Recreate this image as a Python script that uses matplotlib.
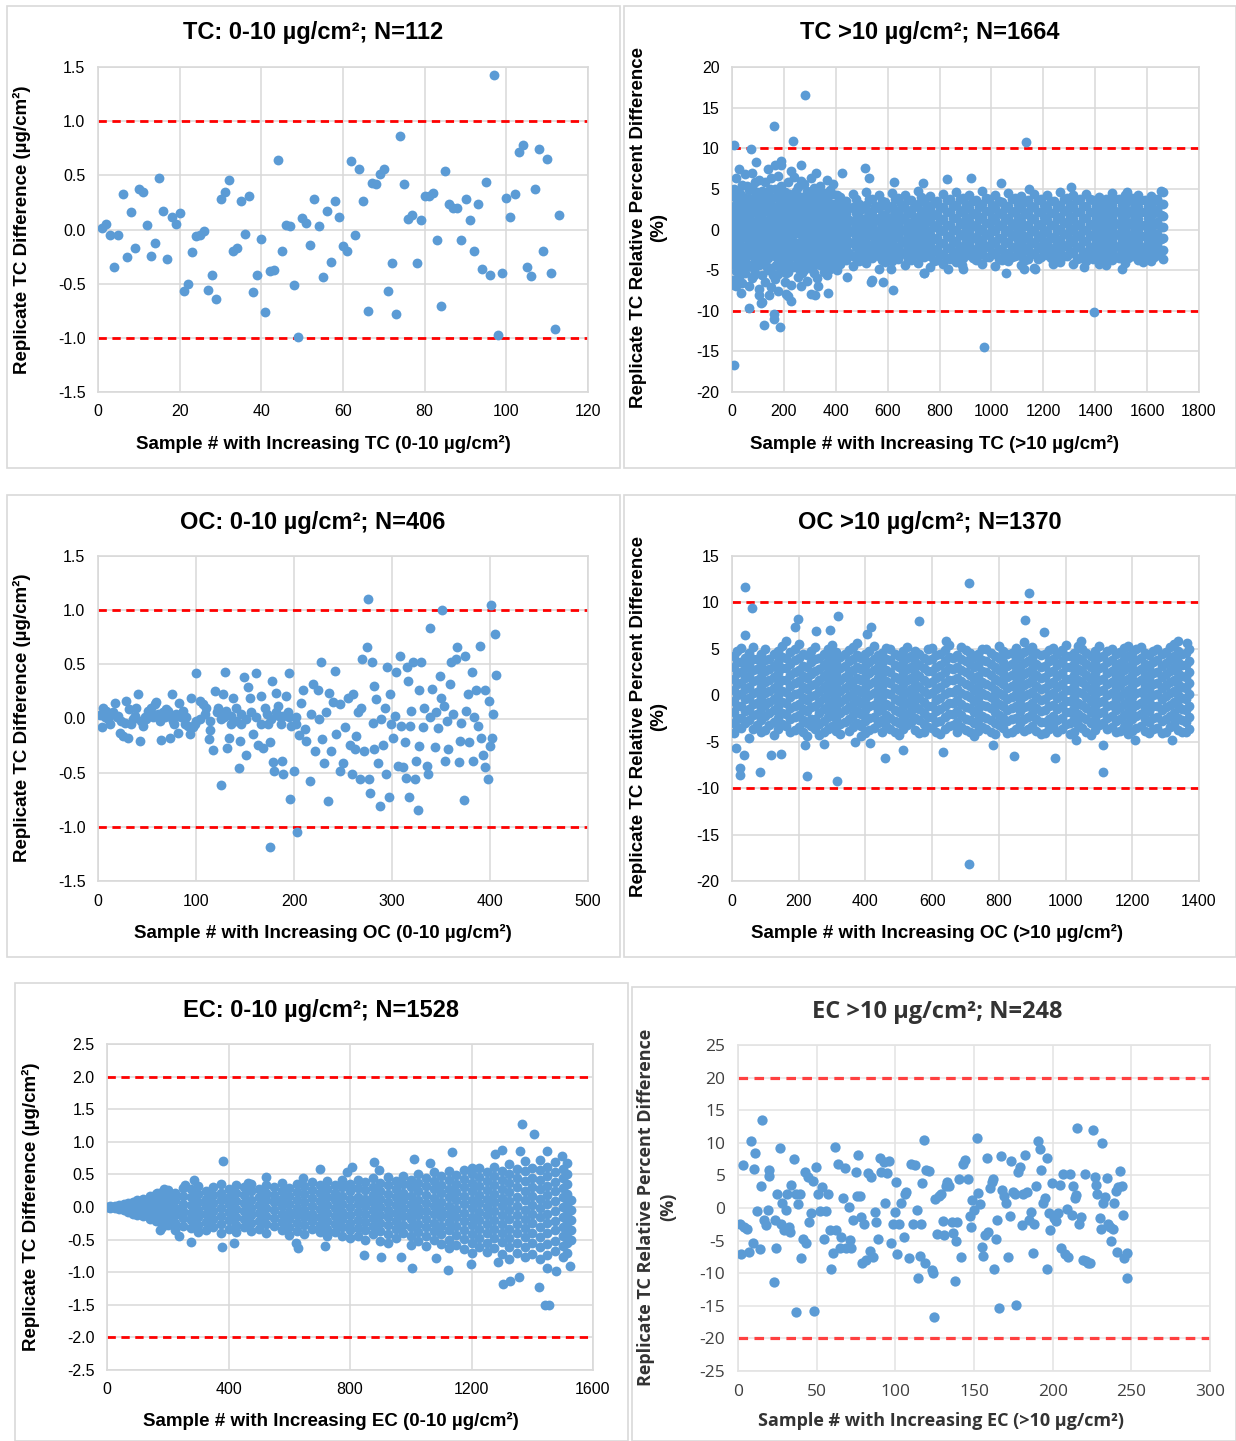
"""Replicate difference scatter panels (TC / OC / EC, low and high loadings)."""

import matplotlib
matplotlib.use("Agg")
import matplotlib.pyplot as plt
import numpy as np
from matplotlib.patches import Rectangle
from matplotlib.ticker import FormatStrFormatter

W, H = 1236, 1441
BLUE = "#5b9bd5"
GRID = "#d9d9d9"

plt.rcParams["font.family"] = ["Liberation Sans", "DejaVu Sans"]
plt.rcParams["axes.unicode_minus"] = False

# ---- TC 0-10 ug/cm2, N=112 (x = sample #) ----
tc_lo_y = [0.01, 0.05, -0.05, -0.35, -0.05, 0.33, -0.25, 0.16, -0.17, 0.37,
           0.35, 0.04, -0.24, -0.12, 0.48, 0.17, -0.27, 0.12, 0.05, 0.15,
           -0.57, -0.50, -0.21, -0.06, -0.05, -0.01, -0.56, -0.42, -0.64, 0.28,
           0.35, 0.46, -0.20, -0.17, 0.26, -0.04, 0.31, -0.58, -0.42, -0.09,
           -0.76, -0.38, -0.37, 0.64, -0.20, 0.04, 0.03, -0.51, -0.99, 0.11,
           0.06, -0.14, 0.28, 0.03, -0.44, 0.17, -0.30, 0.26, 0.12, -0.15,
           -0.20, 0.63, -0.05, 0.56, 0.26, -0.75, 0.43, 0.42, 0.51, 0.56,
           -0.57, -0.31, -0.78, 0.86, 0.42, 0.10, 0.13, -0.31, 0.09, 0.31,
           0.31, 0.34, -0.10, -0.71, 0.54, 0.24, 0.20, 0.20, -0.10, 0.28,
           0.09, -0.20, 0.24, -0.36, 0.44, -0.42, 1.43, -0.97, -0.40, 0.29,
           0.12, 0.33, 0.72, 0.78, -0.35, -0.43, 0.37, 0.74, -0.20, 0.65,
           -0.40, -0.92, 0.13]

# ---- TC >10 ug/cm2, N=1664 : dense band as (sample #, [y ...]) columns ----
tc_hi_cols = [
    (3, [4.1, 1.2, -0.8, -2.5, -4.3, -6.2, 2.6]),
    (9, [5.0, 2.0, -0.2, -1.9, -3.6]),
    (15, [6.3, 3.2, 0.4, -1.6, -3.9, -5.1, 1.8, -7.0]),
    (22, [3.4, 1.0, -1.2, -3.2, -4.6]),
    (28, [7.4, 4.6, 2.3, 0.9, -0.5, -2.9, -5.8]),
    (34, [4.2, 2.1, 0.0, -2.0, -4.0]),
    (40, [5.5, 3.0, 1.5, -1.1, -3.4, -4.8, -6.6]),
    (46, [2.8, 0.8, -0.9, -2.9, -5.0]),
    (52, [6.8, 3.9, 2.0, -0.2, -2.1, -4.0, -5.4]),
    (58, [5.3, 3.5, 1.1, -0.8, -3.2]),
    (65, [4.9, 2.7, 0.6, -1.5, -3.0, -6.9, 1.4]),
    (71, [3.8, 1.9, -0.4, -2.3, -4.4]),
    (78, [7.0, 5.2, 3.4, 1.0, -0.9, -2.6, -4.6, -6.0]),
    (84, [2.7, 0.4, -1.3, -3.2, -5.6]),
    (90, [4.0, 2.2, -0.3, -1.8, -3.7, -5.3, 5.9]),
    (97, [4.6, 2.8, 0.8, -1.0, -3.0]),
    (103, [6.1, 3.6, 1.7, 0.2, -2.3, -4.4, -7.3]),
    (109, [3.4, 1.4, -0.5, -2.0, -3.8]),
    (115, [4.7, 2.9, 0.9, -1.0, -3.1, -5.6, -8.9]),
    (122, [4.1, 2.2, 0.2, -1.8, -3.4]),
    (128, [5.8, 3.3, 1.1, -0.6, -2.8, -4.1, -6.4]),
    (134, [3.0, 1.0, -1.0, -2.0, -4.6]),
    (140, [7.5, 4.4, 2.4, 0.3, -1.4, -3.5, -5.0]),
    (146, [5.0, 3.1, 1.2, -0.9, -2.8]),
    (152, [6.4, 3.8, 1.6, -0.4, -2.2, -4.7, -7.1]),
    (159, [2.9, 0.9, -1.0, -3.0, -5.6]),
    (165, [7.9, 5.0, 2.1, 0.5, -1.3, -3.3, -6.1]),
    (171, [4.0, 1.4, -0.4, -2.5, -4.4]),
    (178, [6.6, 4.2, 2.8, 0.7, -1.9, -3.6, -5.5, -7.6]),
    (184, [3.5, 1.9, 0.0, -1.0, -3.0]),
    (190, [8.4, 5.4, 3.1, 1.3, -0.7, -2.7, -4.9]),
    (196, [4.5, 2.2, 0.3, -1.8, -3.8]),
    (203, [4.6, 2.5, 0.0, -1.7, -4.2, -6.5]),
    (209, [3.7, 1.3, -0.7, -2.9, -5.3]),
    (215, [5.9, 3.5, 1.9, -0.1, -2.4, -5.2, -8.2]),
    (221, [4.4, 2.7, 0.8, -1.1, -3.6]),
    (228, [7.2, 4.3, 2.2, 0.4, -1.2, -3.2, -6.8]),
    (234, [3.2, 1.2, -0.4, -2.2, -4.6]),
    (240, [6.5, 3.7, 1.4, -0.5, -2.6, -4.5]),
    (246, [4.8, 2.6, 0.5, -1.6, -3.4]),
    (253, [5.2, 3.0, 0.8, -1.6, -3.8, -5.9]),
    (259, [3.8, 2.0, -0.3, -2.6, -4.9]),
    (265, [6.0, 4.0, 1.8, 0.1, -2.0, -4.3, -7.0]),
    (271, [2.9, 1.0, -0.8, -3.1, -5.3]),
    (278, [5.6, 2.6, 0.6, -1.1, -3.0, -5.0]),
    (284, [4.1, 2.0, 0.2, -1.9, -3.9]),
    (290, [4.8, 3.2, 1.2, -0.6, -2.5, -4.6, -6.3]),
    (296, [3.3, 1.6, -0.1, -1.6, -3.5]),
    (303, [6.4, 3.9, 1.5, -0.3, -1.9, -3.6, -7.9]),
    (309, [4.3, 2.5, 0.6, -0.9, -2.8, -4.8]),
    (315, [5.1, 2.8, 0.9, -1.4, -3.3, -5.4]),
    (321, [3.6, 1.8, 0.0, -2.2, -4.2]),
    (328, [4.3, 2.0, 0.2, -1.8, -3.9, -6.0]),
    (334, [4.7, 3.0, 1.0, -0.8, -2.9]),
    (340, [5.4, 3.4, 1.3, -0.4, -2.4, -4.4]),
    (346, [3.2, 1.5, -0.6, -1.8, -3.6]),
    (353, [4.5, 2.5, 0.7, -1.2, -3.1, -5.2]),
    (359, [4.0, 2.1, 0.2, -1.6, -3.4]),
    (365, [6.1, 3.6, 1.7, -0.2, -2.0, -3.8, -5.6]),
    (371, [3.4, 1.0, -0.8, -2.6, -4.4]),
    (378, [4.9, 2.3, 0.4, -1.5, -3.4, -4.8]),
    (384, [4.4, 2.6, 0.8, -0.9, -2.6]),
    (390, [5.6, 3.1, 1.0, -0.7, -2.7, -4.1]),
    (396, [3.0, 1.7, -0.2, -1.9, -3.6]),
    (403, [4.2, 2.7, 0.8, -1.0, -2.9, -5.0]),
    (409, [3.4, 1.4, -0.3, -2.0, -3.4]),
    (415, [4.0, 2.2, 0.5, -1.3, -2.9, -4.2]),
    (428, [3.0, 1.6, 0.1, -1.2, -2.6, -3.4]),
    (440, [3.5, 1.9, 0.6, -0.8, -2.2, -3.7]),
    (452, [2.6, 1.2, -0.1, -1.5, -2.9]),
    (465, [4.4, 2.8, 1.1, -0.3, -1.7, -3.2, -4.5]),
    (478, [3.7, 2.0, 0.5, -0.8, -2.1, -3.5]),
    (490, [3.2, 1.6, 0.2, -1.1, -2.6, -3.9]),
    (502, [2.5, 0.9, -0.5, -1.9, -3.2]),
    (515, [4.6, 3.0, 1.4, 0.0, -1.5, -2.9, -4.1]),
    (528, [3.8, 2.2, 0.7, -0.7, -2.2, -3.5]),
    (540, [3.7, 2.1, 0.7, -0.7, -2.0, -3.5, -6.2]),
    (552, [2.9, 1.4, 0.0, -1.4, -2.8]),
    (565, [4.2, 2.6, 1.0, -0.4, -1.9, -3.3, -4.8]),
    (578, [3.5, 1.8, 0.4, -1.1, -2.5, -3.7]),
    (590, [3.4, 1.8, 0.3, -1.2, -2.7, -4.0]),
    (602, [2.7, 1.1, -0.4, -1.9, -3.3]),
    (615, [4.5, 2.9, 1.5, 0.1, -1.4, -2.8, -3.9]),
    (628, [3.7, 2.2, 0.8, -0.7, -2.1, -3.2]),
    (640, [3.9, 2.3, 0.8, -0.6, -2.1, -3.6]),
    (652, [3.1, 1.5, 0.1, -1.3, -2.8]),
    (665, [4.3, 2.7, 1.2, -0.2, -1.6, -3.0, -4.4]),
    (678, [3.6, 2.0, 0.5, -0.9, -2.3, -3.6]),
    (690, [3.6, 2.0, 0.4, -1.0, -2.5, -3.8]),
    (702, [2.8, 1.2, -0.3, -1.7, -3.1]),
    (715, [4.8, 3.1, 1.6, 0.2, -1.3, -2.7, -4.1]),
    (728, [4.0, 2.3, 0.9, -0.5, -2.0, -3.3]),
    (740, [3.8, 2.2, 0.7, -0.8, -2.2, -3.4, -5.4]),
    (752, [3.0, 1.5, 0.0, -1.5, -2.9]),
    (765, [4.1, 2.5, 1.0, -0.5, -1.9, -3.2, -4.6]),
    (778, [3.3, 1.8, 0.3, -1.2, -2.6, -3.9]),
    (790, [3.5, 1.9, 0.5, -1.0, -2.4, -3.7]),
    (802, [2.7, 1.2, -0.2, -1.7, -3.1]),
    (815, [4.4, 2.8, 1.3, -0.1, -1.6, -3.0, -4.2]),
    (828, [3.6, 2.1, 0.6, -0.8, -2.3, -3.5]),
    (840, [3.7, 2.1, 0.6, -0.9, -2.3, -3.6]),
    (852, [2.9, 1.4, -0.1, -1.6, -3.0]),
    (865, [4.6, 3.0, 1.4, 0.0, -1.4, -2.8, -4.0]),
    (878, [3.8, 2.2, 0.7, -0.7, -2.1, -3.3]),
    (890, [3.9, 2.4, 0.9, -0.5, -2.0, -3.5, -4.9]),
    (902, [3.1, 1.6, 0.2, -1.3, -2.7]),
    (915, [4.2, 2.6, 1.1, -0.3, -1.8, -3.1]),
    (928, [3.5, 1.9, 0.4, -1.1, -2.5, -3.5]),
    (940, [3.6, 2.0, 0.5, -0.9, -2.4, -3.8]),
    (952, [2.8, 1.3, -0.2, -1.6, -3.1]),
    (965, [4.7, 3.1, 1.5, 0.1, -1.3, -2.7, -4.3]),
    (978, [3.9, 2.3, 0.8, -0.6, -2.0, -3.4]),
    (990, [3.8, 2.3, 0.8, -0.7, -2.1, -3.4]),
    (1002, [3.0, 1.5, 0.1, -1.4, -2.8]),
    (1015, [4.3, 2.7, 1.2, -0.2, -1.7, -3.0, -4.5]),
    (1028, [3.5, 2.0, 0.5, -1.0, -2.4, -3.6]),
    (1040, [3.4, 1.9, 0.4, -1.0, -2.5, -3.7]),
    (1052, [2.7, 1.2, -0.3, -1.7, -3.1]),
    (1065, [4.5, 2.9, 1.4, 0.0, -1.5, -2.9, -3.9]),
    (1078, [3.7, 2.1, 0.6, -0.8, -2.2, -3.4]),
    (1090, [3.9, 2.3, 0.8, -0.6, -2.1, -3.3]),
    (1102, [3.1, 1.6, 0.1, -1.3, -2.7]),
    (1115, [4.1, 2.6, 1.1, -0.4, -1.8, -3.2, -4.4]),
    (1128, [3.4, 1.9, 0.4, -1.1, -2.5, -3.7]),
    (1140, [3.6, 2.1, 0.6, -0.8, -2.2, -3.6]),
    (1152, [2.9, 1.4, -0.1, -1.5, -2.9]),
    (1165, [4.4, 2.8, 1.3, -0.2, -1.6, -3.0, -4.7]),
    (1178, [3.6, 2.1, 0.6, -0.9, -2.3, -3.6]),
    (1190, [3.8, 2.2, 0.7, -0.7, -2.0, -3.4]),
    (1202, [3.0, 1.5, 0.0, -1.4, -2.7]),
    (1215, [4.2, 2.7, 1.2, -0.3, -1.8, -3.1]),
    (1228, [3.5, 2.0, 0.5, -1.0, -2.4, -3.5]),
    (1240, [3.5, 2.0, 0.5, -0.9, -2.3, -3.7]),
    (1252, [2.8, 1.3, -0.2, -1.6, -3.0]),
    (1265, [4.6, 3.0, 1.5, 0.1, -1.3, -2.7, -4.0]),
    (1278, [3.8, 2.3, 0.8, -0.6, -2.0, -3.3]),
    (1290, [3.9, 2.4, 0.9, -0.5, -1.9, -3.2]),
    (1302, [3.2, 1.7, 0.2, -1.2, -2.6]),
    (1315, [4.3, 2.8, 1.3, -0.1, -1.5, -2.9, -4.3]),
    (1328, [3.6, 2.1, 0.6, -0.8, -2.2, -3.6]),
    (1340, [3.7, 2.2, 0.7, -0.7, -2.1, -3.5]),
    (1352, [2.9, 1.4, 0.0, -1.4, -2.8]),
    (1365, [4.4, 2.9, 1.4, 0.0, -1.4, -2.8, -3.9]),
    (1378, [3.7, 2.2, 0.7, -0.7, -2.1, -3.3]),
    (1390, [3.6, 2.1, 0.6, -0.8, -2.2, -3.6]),
    (1402, [2.9, 1.4, -0.1, -1.5, -2.9]),
    (1415, [4.0, 2.5, 1.0, -0.4, -1.7, -3.0, -4.2]),
    (1428, [3.3, 1.8, 0.3, -1.1, -2.4, -3.6]),
    (1440, [3.8, 2.3, 0.8, -0.6, -2.0, -3.4]),
    (1452, [3.1, 1.6, 0.1, -1.3, -2.7]),
    (1465, [4.5, 3.0, 1.5, 0.1, -1.3, -2.6, -3.8]),
    (1478, [3.8, 2.3, 0.8, -0.6, -2.0, -3.2]),
    (1490, [3.7, 2.2, 0.7, -0.7, -2.1, -3.5]),
    (1502, [3.0, 1.5, 0.0, -1.4, -2.8]),
    (1515, [4.2, 2.7, 1.2, -0.2, -1.6, -2.9, -4.1]),
    (1528, [3.5, 2.0, 0.5, -0.9, -2.3, -3.5]),
    (1540, [3.9, 2.4, 0.9, -0.5, -1.9, -3.2]),
    (1552, [3.2, 1.7, 0.2, -1.2, -2.5]),
    (1565, [4.3, 2.8, 1.3, -0.1, -1.5, -2.8, -3.7]),
    (1578, [3.6, 2.1, 0.6, -0.8, -2.1, -3.0]),
    (1590, [3.6, 2.1, 0.6, -0.8, -2.2, -3.3]),
    (1602, [2.9, 1.4, -0.1, -1.5, -2.7]),
    (1615, [4.1, 2.6, 1.1, -0.3, -1.7, -3.0, -3.9]),
    (1628, [3.5, 2.0, 0.5, -0.9, -2.3, -3.4]),
    (1640, [3.8, 2.4, 0.9, -0.5, -1.9, -3.1]),
    (1652, [3.2, 1.8, 0.3, -1.2, -2.6]),
    (1660, [4.6, 3.2, 1.7, 0.3, -1.1, -2.5, -3.6]),
]
tc_hi_out_x = [9, 9, 73, 94, 163, 236, 281, 123, 186, 163, 163, 66, 1135, 972, 1397,
               265, 188, 325, 424, 511, 527, 625, 735, 829, 923, 1036, 1145, 1306, 1524, 1653,
               621, 537, 581, 612, 833, 1055, 1168, 1126, 1237, 1358, 1440, 1505, 1585, 888, 739,
               443, 369, 319, 332, 226, 210, 104, 113, 143, 33, 7, 4]
tc_hi_out_y = [10.4, -16.7, 9.9, 8.3, 12.8, 10.9, 16.5, -11.8, -12.0, -11.0, -10.4, -9.6, 10.8, -14.5, -10.1,
               7.9, 7.9, 7.0, 6.9, 7.6, 6.3, 5.9, 5.7, 6.2, 6.3, 5.7, 5.0, 5.2, 4.6, 4.8,
               -7.4, -6.5, -6.4, -4.9, -4.9, -5.4, -4.9, -4.9, -4.2, -4.6, -4.4, -4.9, -4.0, -4.4, -5.4,
               -5.8, -7.8, -8.0, -6.9, -8.8, -7.9, -8.0, -9.0, -8.0, -7.8, -6.8, -3.5]

# ---- OC 0-10 ug/cm2, N=406 ----
oc_lo_x = [1.7, 4, 5, 8.5, 10, 12.6, 17, 19, 22, 25.5, 29, 30.6, 32, 36, 39, 41, 42.5, 46, 47.6, 51,
           54, 58, 59.5, 61, 64.6, 68, 71, 73, 76, 78, 81.6, 83, 87, 90, 93.5, 95, 98.6, 99.7,
           6.8, 11.9, 15.3, 20.4, 23.8, 27.2, 34, 37.4, 44.2, 49.3, 52.7, 56.1, 62.9, 66.3, 69.7,
           74.8, 76.5, 79.9, 85, 88.4, 91.8, 97, 100,
           104, 109, 114, 121, 126, 131, 136, 141, 146, 151, 156, 161, 166, 172, 177, 182, 189, 195, 202,
           104, 107, 110.5, 113, 114, 117, 119, 122.5, 125.5, 127.6, 129, 130, 132, 134, 136, 137.8,
           141, 143.5, 144.6, 146, 148.6, 150.7, 153, 155, 158, 161.6, 163, 166.7, 168, 170, 173.5,
           175, 176, 178, 178.4, 180, 182, 183.7, 185, 187, 188, 189, 192, 194, 195, 195.6, 197,
           199.7, 202, 203, 205, 207.5, 209, 211, 212.6, 216, 217.7, 219, 221, 224.5, 226, 228, 229,
           230.6, 233, 235, 236, 238, 240, 241.5, 243, 246.6, 247, 250, 251.7, 255, 256.8, 258.8,
           260, 262, 263.6, 265, 267.7, 268.7, 269.7, 271.8, 274, 275.5, 276.5, 278, 279.6, 280.6,
           281.6, 282, 284, 286, 288, 289, 291, 292.5, 293.5, 295, 296.6, 297.6, 299, 301, 302.7,
           304.4, 306, 307.8, 309.5, 311, 313, 314.6, 315, 316, 317, 318.7, 319.7, 321, 323, 324,
           326.5, 327.6, 328, 330, 331.6, 333, 335.7, 337, 338.4, 339, 341, 343.5, 345, 347, 348.6,
           350, 351, 352.7, 354, 355.8, 357, 359, 360.5, 362, 365.6, 366.7, 368, 369, 370.7, 373,
           374, 375.9, 377.6, 379, 381.6, 382.6, 384, 386, 387.8, 390, 391, 393, 394.6, 395, 398,
           399, 399.7, 400.7, 402, 403, 404.8, 405.8]
oc_lo_y = [0.03, -0.08, 0.10, 0.07, 0.00, -0.05, 0.14, 0.01, -0.13, -0.16, 0.16, -0.18, 0.09, 0.00,
           0.10, 0.23, -0.21, -0.07, 0.01, 0.07, 0.10, 0.13, 0.15, 0.04, -0.20, 0.01, 0.07, -0.18,
           0.23, -0.05, -0.13, 0.14, 0.07, 0.01, -0.14, 0.19, -0.05, 0.42,
           0.01, 0.04, 0.06, 0.02, -0.02, -0.04, -0.05, 0.02, -0.02, 0.00, 0.04, 0.01, -0.02, 0.06,
           0.09, 0.01, -0.02, 0.04, 0.01, -0.05, -0.07, -0.08, -0.02,
           0.00, 0.04, -0.02, 0.06, 0.00, 0.07, 0.02, -0.02, 0.04, 0.00, 0.06, 0.01, -0.05, 0.04,
           0.00, 0.06, 0.02, 0.01, -0.05,
           0.16, 0.13, 0.10, -0.19, -0.11, -0.29, 0.25, 0.10, -0.61, 0.23, 0.01, 0.43, -0.27, -0.18,
           -0.05, 0.19, 0.10, -0.46, -0.21, -0.05, 0.38, -0.34, 0.29, 0.19, -0.14, 0.42, -0.24, 0.21,
           -0.27, 0.10, -0.05, -0.22, -1.19, 0.35, -0.40, -0.48, 0.24, 0.12, 0.02, -0.05, -0.39,
           -0.51, 0.21, 0.06, 0.42, -0.74, -0.07, -0.48, 0.01, -1.05, -0.15, 0.14, 0.26, -0.10,
           -0.21, -0.58, 0.04, 0.32, -0.30, 0.26, 0.00, 0.52, -0.19, -0.41, 0.06, -0.76, 0.24,
           -0.30, 0.15, 0.44, -0.14, 0.13, -0.48, -0.41, -0.08, 0.19, -0.24, -0.51, 0.23, -0.28,
           -0.16, 0.06, -0.56, 0.10, 0.55, -0.30, 0.66, 1.10, -0.56, -0.69, 0.52, -0.04, 0.30,
           -0.28, 0.18, -0.41, -0.81, 0.00, -0.24, 0.10, -0.51, 0.48, -0.72, 0.23, -0.05, -0.18,
           0.02, 0.43, -0.44, 0.58, -0.07, -0.45, -0.22, -0.55, 0.48, 0.35, -0.72, -0.07, 0.07,
           0.52, -0.56, -0.39, -0.84, 0.26, -0.25, 0.52, -0.08, 0.10, -0.44, -0.51, 0.01, 0.84,
           0.27, -0.26, 0.06, -0.09, 0.39, 0.19, 1.00, 0.12, -0.39, -0.02, -0.28, 0.32, 0.52, 0.04,
           0.55, 0.66, -0.40, -0.21, -0.04, -0.75, 0.58, 0.07, 0.23, -0.22, 0.43, -0.39, 0.01,
           0.26, -0.07, 0.67, -0.18, -0.34, 0.26, -0.45, -0.56, 0.16, -0.25, 1.05, -0.18, 0.04,
           0.78, 0.40]

# ---- OC >10 ug/cm2, N=1370 ----
oc_hi_cols = [
    (5, [4.2, 3.0, 1.8, 0.6, -0.6, -1.8, -3.0, -4.1]),
    (16, [4.8, 3.6, 2.4, 1.2, 0.0, -1.2, -2.4, -3.4]),
    (28, [5.1, 3.6, 2.5, 1.3, 0.1, -1.1, -2.4, -3.5]),
    (39, [4.0, 2.9, 1.9, 0.7, -0.4, -1.7, -3.0]),
    (50, [4.6, 3.3, 2.1, 0.9, -0.3, -1.5, -2.7, -4.6]),
    (62, [5.2, 3.9, 2.7, 1.5, 0.3, -0.9, -2.1, -3.6]),
    (75, [3.9, 2.8, 1.6, 0.4, -0.8, -2.0, -3.2]),
    (88, [4.5, 3.3, 2.0, 0.9, -0.3, -1.4, -2.7, -4.0]),
    (100, [5.0, 3.8, 2.6, 1.4, 0.2, -1.0, -2.2, -3.7]),
    (112, [3.9, 2.8, 1.6, 0.5, -0.7, -1.9, -3.2]),
    (125, [4.4, 3.2, 2.0, 0.8, -0.4, -1.6, -2.9, -4.3]),
    (138, [4.8, 3.6, 2.4, 1.2, 0.0, -1.2, -2.4, -3.6]),
    (150, [5.3, 4.1, 2.9, 1.7, 0.5, -0.7, -1.9, -3.1]),
    (162, [4.0, 2.9, 1.7, 0.4, -0.8, -2.0, -3.3]),
    (175, [4.7, 3.4, 2.2, 1.0, -0.2, -1.4, -2.6, -3.9]),
    (188, [5.0, 3.8, 2.5, 1.3, 0.1, -1.1, -2.3, -3.7]),
    (200, [5.5, 4.0, 2.7, 1.5, 0.3, -0.9, -2.1, -3.4]),
    (212, [4.4, 3.2, 2.1, 0.9, -0.3, -1.5, -2.7, -4.0]),
    (225, [4.3, 3.1, 1.9, 0.7, -0.5, -1.7, -3.0, -4.4]),
    (238, [4.8, 3.6, 2.3, 1.1, -0.1, -1.3, -2.6, -3.3]),
    (250, [5.2, 3.9, 2.6, 1.2, 0.0, -1.2, -2.5, -3.6]),
    (262, [4.0, 2.8, 1.7, 0.5, -0.7, -1.9, -3.1, -4.3]),
    (275, [4.5, 3.3, 2.1, 0.9, -0.3, -1.5, -2.8, -4.0]),
    (288, [5.0, 3.7, 2.5, 1.3, 0.2, -1.1, -2.3, -3.6]),
    (300, [5.4, 4.2, 3.0, 1.8, 0.6, -0.6, -1.8, -3.3]),
    (312, [4.7, 3.5, 2.3, 1.1, -0.1, -1.3, -2.5, -3.8]),
    (325, [4.1, 2.9, 1.7, 0.5, -0.7, -1.9, -3.1, -4.2]),
    (338, [4.4, 3.2, 2.0, 0.8, -0.4, -1.6, -2.9]),
    (350, [4.9, 3.7, 2.4, 1.1, -0.1, -1.3, -2.6, -3.8]),
    (362, [5.2, 3.9, 2.7, 1.5, 0.3, -0.9, -2.1, -3.4]),
    (375, [5.6, 4.3, 3.1, 1.9, 0.7, -0.5, -1.7, -3.0]),
    (388, [4.0, 2.8, 1.6, 0.4, -0.8, -2.0, -3.3, -4.4]),
    (400, [4.4, 3.2, 2.0, 0.8, -0.4, -1.6, -2.8, -4.1]),
    (412, [4.8, 3.6, 2.4, 1.2, 0.0, -1.2, -2.4, -3.7]),
    (425, [5.3, 3.9, 2.7, 1.4, 0.2, -1.0, -2.3, -3.5]),
    (438, [4.3, 3.1, 1.9, 0.7, -0.5, -1.7, -3.0]),
    (450, [4.6, 3.5, 2.3, 1.0, -0.2, -1.4, -2.7, -3.9]),
    (462, [5.1, 3.9, 2.7, 1.5, 0.3, -0.9, -2.1, -3.3]),
    (475, [5.0, 3.8, 2.5, 1.3, 0.1, -1.2, -2.4, -3.6]),
    (488, [4.5, 3.3, 2.0, 0.8, -0.4, -1.6, -2.8, -4.0]),
    (500, [4.2, 3.0, 1.8, 0.6, -0.6, -1.8, -3.0, -4.3]),
    (512, [4.8, 3.6, 2.4, 1.2, 0.0, -1.2, -2.4, -3.6]),
    (525, [5.2, 4.0, 2.8, 1.6, 0.4, -0.8, -2.0, -3.2]),
    (538, [4.2, 3.0, 1.9, 0.7, -0.5, -1.7, -2.9]),
    (550, [4.8, 3.6, 2.4, 1.2, 0.0, -1.2, -2.4, -3.7]),
    (562, [4.5, 3.3, 2.1, 0.9, -0.3, -1.5, -2.7, -4.1]),
    (575, [4.0, 2.9, 1.7, 0.5, -0.7, -1.9, -3.1, -4.0]),
    (588, [5.0, 3.8, 2.6, 1.3, 0.1, -1.1, -2.3, -3.4]),
    (600, [5.1, 3.9, 2.6, 1.4, 0.2, -1.1, -2.3, -3.5]),
    (612, [4.3, 3.1, 1.9, 0.7, -0.5, -1.7, -2.9, -3.9]),
    (625, [4.5, 3.3, 2.1, 0.9, -0.3, -1.5, -2.8, -4.2]),
    (638, [4.9, 3.7, 2.5, 1.3, 0.1, -1.1, -2.3, -3.6]),
    (650, [5.4, 4.1, 2.9, 1.6, 0.4, -0.8, -2.0, -3.3]),
    (662, [4.0, 2.8, 1.6, 0.4, -0.8, -2.0, -3.2]),
    (675, [4.3, 3.1, 1.9, 0.7, -0.5, -1.7, -2.9, -3.9]),
    (688, [5.2, 3.9, 2.7, 1.5, 0.3, -0.9, -2.1, -3.4]),
    (700, [4.9, 3.7, 2.5, 1.2, 0.0, -1.3, -2.5, -3.7]),
    (712, [4.6, 3.4, 2.2, 1.0, -0.2, -1.4, -2.7, -4.0]),
    (725, [4.1, 3.0, 1.8, 0.6, -0.6, -1.8, -3.0, -4.4]),
    (738, [4.5, 3.3, 2.1, 0.9, -0.3, -1.5, -2.7, -3.8]),
    (750, [5.0, 3.8, 2.6, 1.4, 0.2, -1.0, -2.2, -3.4]),
    (762, [5.0, 3.7, 2.5, 1.2, 0.0, -1.2, -2.4, -3.6]),
    (775, [4.6, 3.4, 2.2, 1.0, -0.2, -1.4, -2.7, -3.9]),
    (788, [4.2, 3.0, 1.8, 0.6, -0.6, -1.8, -3.0, -4.2]),
    (800, [5.3, 4.0, 2.7, 1.5, 0.3, -0.9, -2.1, -3.2]),
    (812, [4.8, 3.6, 2.4, 1.2, 0.0, -1.2, -2.4, -3.5]),
    (825, [4.4, 3.2, 2.0, 0.8, -0.4, -1.6, -2.8, -4.1]),
    (838, [4.6, 3.4, 2.2, 1.0, -0.2, -1.4, -2.6, -3.9]),
    (850, [5.1, 3.9, 2.6, 1.3, 0.1, -1.1, -2.4, -3.6]),
    (862, [4.3, 3.1, 1.9, 0.7, -0.5, -1.7, -3.0]),
    (875, [4.7, 3.5, 2.3, 1.1, -0.1, -1.3, -2.6, -3.8]),
    (888, [4.9, 3.7, 2.5, 1.3, 0.1, -1.1, -2.3, -3.6]),
    (900, [5.2, 4.0, 2.8, 1.6, 0.4, -0.8, -2.0, -3.3]),
    (912, [4.6, 3.4, 2.2, 1.0, -0.2, -1.4, -2.6, -3.8]),
    (925, [4.3, 3.1, 1.9, 0.7, -0.5, -1.7, -2.9, -4.2]),
    (938, [4.4, 3.2, 2.0, 0.8, -0.4, -1.6, -2.9, -4.1]),
    (950, [4.9, 3.7, 2.5, 1.2, 0.0, -1.2, -2.5, -3.6]),
    (962, [5.1, 3.9, 2.6, 1.4, 0.2, -1.0, -2.2, -3.3]),
    (975, [4.5, 3.3, 2.1, 0.9, -0.3, -1.5, -2.7, -3.9]),
    (988, [4.9, 3.7, 2.4, 1.2, 0.0, -1.2, -2.4, -3.6]),
    (1000, [5.4, 4.2, 3.0, 1.8, 0.6, -0.6, -1.8, -3.1]),
    (1012, [4.2, 3.0, 1.8, 0.6, -0.6, -1.8, -3.0, -4.2]),
    (1025, [4.6, 3.4, 2.2, 1.0, -0.2, -1.4, -2.6, -4.0]),
    (1038, [5.3, 4.0, 2.8, 1.6, 0.4, -0.8, -2.0, -3.2]),
    (1050, [5.0, 3.8, 2.6, 1.4, 0.2, -1.0, -2.3, -3.5]),
    (1062, [4.6, 3.4, 2.2, 1.0, -0.2, -1.4, -2.6, -3.9]),
    (1075, [4.2, 3.0, 1.8, 0.6, -0.6, -1.8, -3.0, -4.3]),
    (1088, [4.8, 3.6, 2.4, 1.2, 0.0, -1.2, -2.5, -3.7]),
    (1100, [5.3, 4.1, 2.9, 1.7, 0.5, -0.7, -1.9, -3.2]),
    (1112, [4.2, 3.0, 1.8, 0.6, -0.6, -1.8, -3.0]),
    (1125, [4.8, 3.6, 2.4, 1.2, 0.0, -1.2, -2.4, -3.6]),
    (1138, [5.0, 3.8, 2.6, 1.4, 0.2, -1.0, -2.2, -3.4]),
    (1150, [4.4, 3.2, 2.0, 0.8, -0.4, -1.6, -2.8, -4.0]),
    (1162, [4.7, 3.5, 2.3, 1.1, -0.1, -1.3, -2.5, -3.8]),
    (1175, [5.1, 3.9, 2.7, 1.5, 0.3, -0.9, -2.1, -3.4]),
    (1188, [4.2, 3.0, 1.8, 0.6, -0.6, -1.8, -3.0, -4.2]),
    (1200, [4.6, 3.4, 2.2, 1.0, -0.2, -1.4, -2.6, -3.8]),
    (1212, [5.0, 3.8, 2.6, 1.4, 0.2, -1.0, -2.2, -3.5]),
    (1225, [5.2, 4.0, 2.8, 1.6, 0.4, -0.8, -2.0, -3.3]),
    (1238, [4.6, 3.4, 2.2, 1.0, -0.2, -1.4, -2.6, -3.8]),
    (1250, [4.3, 3.1, 1.9, 0.7, -0.5, -1.7, -2.9, -4.1]),
    (1262, [4.8, 3.6, 2.4, 1.2, 0.0, -1.2, -2.4, -3.6]),
    (1275, [5.0, 3.8, 2.5, 1.3, 0.1, -1.1, -2.3, -3.5]),
    (1288, [4.4, 3.2, 2.0, 0.8, -0.4, -1.6, -2.8, -4.1]),
    (1300, [4.7, 3.5, 2.3, 1.1, -0.1, -1.3, -2.5, -3.9]),
    (1312, [5.2, 3.9, 2.6, 1.4, 0.2, -1.0, -2.2, -3.4]),
    (1325, [5.5, 4.2, 3.0, 1.7, 0.5, -0.7, -1.9, -3.1]),
    (1338, [4.8, 3.6, 2.4, 1.2, 0.0, -1.2, -2.4, -3.7]),
    (1350, [4.5, 3.3, 2.1, 0.9, -0.3, -1.5, -2.7, -4.0]),
    (1360, [4.6, 3.3, 2.0, 0.8, -0.4, -1.6, -2.9, -4.0]),
    (1370, [5.0, 3.7, 2.5, 1.3, 0.1, -1.1, -2.3, -3.6]),
]
oc_hi_out_x = [38, 61, 710, 891, 710, 23, 23, 85, 226, 314, 1113, 199, 188, 318, 253, 293, 418, 406,
               560, 879, 875, 936, 1336, 1363, 1186, 1045, 642, 163, 38, 35, 118, 148, 460, 514,
               633, 844, 967, 1113, 1032, 783, 220, 276, 415, 368, 13, 1320, 1208]
oc_hi_out_y = [11.7, 9.4, 12.1, 11.0, -18.2, -8.6, -7.8, -8.3, -8.7, -9.2, -8.3, 8.2, 7.4, 8.5, 6.9,
               7.0, 7.4, 6.6, 8.0, 8.1, 5.7, 6.8, 5.9, 5.6, 5.3, 5.9, 5.8, 5.9, 6.5, -6.4, -6.4,
               -6.3, -6.7, -5.9, -6.1, -6.5, -6.7, -5.4, -4.8, -5.3, -5.4, -5.2, -5.1, -5.0, -5.7,
               -4.8, -4.8]

# ---- EC 0-10 ug/cm2, N=1528 ----
ec_lo_cols = [
    (0, [0.0]), (10, [0.01, -0.01]), (25, [0.02, -0.02]), (40, [0.03, -0.03]),
    (55, [0.05, 0.0, -0.05]), (70, [0.06, 0.0, -0.07]),
    (85, [0.08, 0.01, -0.06, -0.10]), (100, [0.10, 0.03, -0.04, -0.12]),
    (120, [0.13, 0.04, -0.05, -0.14]), (140, [0.17, 0.07, -0.03, -0.11, -0.19]),
    (160, [0.20, 0.09, -0.02, -0.12, -0.22]), (180, [0.23, 0.11, 0.0, -0.10, -0.21, -0.30]),
    (200, [0.26, 0.14, 0.03, -0.08, -0.19, -0.28]),
    (225, [0.22, 0.10, -0.01, -0.12, -0.24, -0.36]),
    (250, [0.29, 0.17, 0.05, -0.06, -0.17, -0.29]),
    (275, [0.27, 0.15, 0.03, -0.09, -0.20, -0.32]),
    (300, [0.32, 0.20, 0.08, -0.04, -0.15, -0.27, -0.38]),
    (325, [0.25, 0.13, 0.01, -0.11, -0.23, -0.35]),
    (350, [0.30, 0.18, 0.06, -0.06, -0.18, -0.30]),
    (375, [0.35, 0.22, 0.10, -0.02, -0.14, -0.26, -0.40]),
    (400, [0.28, 0.16, 0.04, -0.08, -0.20, -0.33]),
    (425, [0.33, 0.21, 0.09, -0.03, -0.15, -0.27, -0.38]),
    (450, [0.30, 0.18, 0.06, -0.06, -0.18, -0.30]),
    (475, [0.36, 0.24, 0.11, -0.01, -0.13, -0.25, -0.37]),
    (500, [0.27, 0.15, 0.03, -0.09, -0.21, -0.34]),
    (525, [0.34, 0.22, 0.10, -0.02, -0.14, -0.26, -0.40]),
    (550, [0.31, 0.19, 0.07, -0.05, -0.17, -0.29]),
    (575, [0.37, 0.25, 0.13, 0.01, -0.11, -0.23, -0.36]),
    (600, [0.29, 0.17, 0.05, -0.07, -0.19, -0.31, -0.43]),
    (625, [0.35, 0.23, 0.11, -0.01, -0.13, -0.25, -0.37]),
    (650, [0.32, 0.20, 0.08, -0.04, -0.16, -0.28, -0.41]),
    (675, [0.39, 0.26, 0.14, 0.02, -0.10, -0.22, -0.34]),
    (700, [0.33, 0.21, 0.09, -0.03, -0.15, -0.27, -0.39]),
    (725, [0.40, 0.28, 0.15, 0.03, -0.09, -0.21, -0.33, -0.45]),
    (750, [0.34, 0.22, 0.10, -0.02, -0.14, -0.26, -0.38]),
    (775, [0.42, 0.30, 0.17, 0.05, -0.07, -0.19, -0.31, -0.44]),
    (800, [0.36, 0.24, 0.12, 0.0, -0.12, -0.24, -0.36, -0.48]),
    (825, [0.41, 0.29, 0.16, 0.04, -0.08, -0.20, -0.32, -0.45]),
    (850, [0.38, 0.26, 0.13, 0.01, -0.11, -0.23, -0.35, -0.50]),
    (875, [0.44, 0.31, 0.19, 0.07, -0.05, -0.17, -0.29, -0.42]),
    (900, [0.37, 0.25, 0.12, 0.0, -0.12, -0.24, -0.37, -0.52]),
    (925, [0.46, 0.33, 0.20, 0.08, -0.04, -0.16, -0.28, -0.41, -0.55]),
    (950, [0.40, 0.28, 0.15, 0.03, -0.09, -0.21, -0.34, -0.47]),
    (975, [0.48, 0.35, 0.22, 0.10, -0.02, -0.14, -0.27, -0.40]),
    (1000, [0.42, 0.30, 0.17, 0.05, -0.07, -0.19, -0.31, -0.44, -0.58]),
    (1025, [0.50, 0.37, 0.24, 0.11, -0.01, -0.13, -0.26, -0.39, -0.52]),
    (1050, [0.45, 0.32, 0.19, 0.06, -0.06, -0.18, -0.31, -0.45, -0.60]),
    (1075, [0.53, 0.40, 0.27, 0.14, 0.01, -0.11, -0.24, -0.37, -0.50]),
    (1100, [0.47, 0.34, 0.21, 0.08, -0.04, -0.16, -0.29, -0.42, -0.56]),
    (1125, [0.55, 0.42, 0.28, 0.15, 0.02, -0.10, -0.23, -0.36, -0.50, -0.63]),
    (1150, [0.49, 0.36, 0.23, 0.10, -0.03, -0.16, -0.29, -0.43, -0.58]),
    (1175, [0.57, 0.43, 0.30, 0.17, 0.04, -0.09, -0.22, -0.35, -0.49, -0.64]),
    (1200, [0.50, 0.37, 0.24, 0.11, -0.02, -0.15, -0.28, -0.41, -0.55, -0.70]),
    (1225, [0.60, 0.46, 0.32, 0.19, 0.06, -0.07, -0.20, -0.34, -0.48, -0.62]),
    (1250, [0.53, 0.40, 0.26, 0.13, 0.0, -0.13, -0.26, -0.40, -0.55, -0.69]),
    (1275, [0.62, 0.48, 0.34, 0.20, 0.07, -0.06, -0.20, -0.34, -0.48, -0.63]),
    (1300, [0.55, 0.41, 0.27, 0.14, 0.01, -0.12, -0.26, -0.40, -0.54, -0.72]),
    (1325, [0.66, 0.51, 0.37, 0.23, 0.09, -0.05, -0.19, -0.33, -0.47, -0.62]),
    (1350, [0.58, 0.44, 0.30, 0.16, 0.02, -0.12, -0.26, -0.40, -0.55, -0.70]),
    (1375, [0.70, 0.55, 0.40, 0.25, 0.10, -0.04, -0.18, -0.32, -0.46, -0.61, -0.76]),
    (1400, [0.60, 0.45, 0.31, 0.17, 0.03, -0.11, -0.25, -0.40, -0.55, -0.72]),
    (1425, [0.72, 0.57, 0.42, 0.27, 0.12, -0.02, -0.16, -0.31, -0.46, -0.62, -0.80]),
    (1450, [0.62, 0.47, 0.32, 0.18, 0.04, -0.10, -0.25, -0.40, -0.56, -0.74]),
    (1475, [0.69, 0.54, 0.39, 0.24, 0.09, -0.06, -0.21, -0.36, -0.52, -0.68]),
    (1500, [0.58, 0.44, 0.29, 0.15, 0.0, -0.15, -0.30, -0.45, -0.60, -0.77]),
    (1515, [0.50, 0.35, 0.20, 0.05, -0.10, -0.25, -0.40, -0.55, -0.70]),
    (1528, [0.10, -0.05, -0.20, -0.35, -0.50]),
]
ec_lo_out_x = [1367, 1406, 383, 1359, 1447, 1279, 1301, 1136, 1010, 878, 701, 808, 1499, 1513,
               1304, 1326, 1356, 1422, 1441, 1455, 1449, 1477, 1524, 1199, 1122, 1004, 967, 902,
               847, 1084, 1287, 1323, 380, 418, 278, 237, 176, 630, 622, 718, 286, 256, 163, 187,
               464, 524, 644, 789, 897, 1062, 1202]
ec_lo_out_y = [1.28, 1.12, 0.71, 0.86, 0.86, 0.81, 0.87, 0.85, 0.74, 0.69, 0.59, 0.62, 0.78, 0.67,
               -1.18, -1.13, -1.08, -1.22, -1.51, -1.51, -0.94, -0.98, -0.90, -0.87, -0.96, -0.94,
               -0.76, -0.76, -0.74, -0.78, -0.85, -0.79, -0.61, -0.55, -0.53, -0.44, -0.35, -0.63,
               -0.55, -0.60, 0.42, 0.33, 0.22, 0.27, 0.37, 0.46, 0.44, 0.53, 0.57, 0.67, 0.60]

# ---- EC >10 ug/cm2, N=248 ----
ec_hi_x = [1, 2, 3, 4, 5.7, 7, 8, 9.5, 11, 10, 12, 13.8, 14.4, 15.3, 16.3, 17.6, 19, 19.5, 20,
           22.7, 23.7, 24.4, 25, 26.5, 27.6, 28.2, 29, 30.3, 31.4, 32.4, 33.3, 34, 35.6, 37, 38,
           37, 39.6, 40, 41.3, 42.4, 43.5, 44.5, 45, 46.6, 47.7, 48.3, 49.8, 51, 52.4, 53.6, 54.5,
           55.8, 57.2, 58.3, 59.4, 60.4, 61.5, 62.1, 63.6, 64.7, 65.7, 66.8, 68.3, 68.9, 70.6,
           71.4, 72.1, 73.1, 74.8, 75.7, 76.3, 77.4, 78.4, 79, 80.1, 81.6, 82.7, 83.7, 84.8, 85.9,
           86.9, 88, 89, 90, 91.2, 92.6, 93.7, 94.8, 96, 97.1, 98.2, 99.6, 100.7, 101, 102.4,
           103.9, 105.4, 106, 107, 108.8, 110, 111, 112.4, 113.8, 114.5, 115.5, 116.6, 117.2,
           118.3, 119.1, 119.8, 121.5, 123, 124.4, 124, 125.5, 126.6, 127.8, 129.3, 130.8, 132,
           133, 134, 130.4, 135.7, 136.7, 137.8, 138.4, 139.5, 140.6, 142, 143.1, 144.2, 145.9,
           147.3, 148.4, 149, 150.1, 151.6, 152.6, 153.7, 154.8, 155.8, 156.9, 158.4, 159, 160,
           161.5, 162.2, 162.8, 163.9, 164.9, 166, 167, 168.1, 169.2, 170.2, 171.7, 172.8, 173.8,
           174.9, 176, 176.6, 178, 179.1, 180.2, 181.3, 182.7, 183.8, 185.1, 186.1, 187.2, 188.3,
           189.7, 190.8, 191.9, 192.9, 194, 195, 196.1, 196.5, 197.8, 198.6, 199.7, 201, 202,
           203.5, 204.6, 205.6, 206.7, 207.8, 208.8, 209.9, 211, 212, 213.1, 214.1, 214.8, 215.6,
           216.9, 217.7, 219, 220.5, 221.5, 222.6, 223.6, 225.8, 226.8, 227.5, 228.3, 230, 231,
           231.5, 232.1, 233.2, 234.3, 235.3, 236.4, 237, 238.5, 239.1, 240.2, 240.6, 241.7,
           242.7, 243.8, 244.4, 245.3, 247, 247.4]
ec_hi_y = [-2.4, -7.1, 6.6, -2.9, -3.2, -6.7, 10.3, -5.3, 8.4, 6.0, -0.5, -6.3, 3.4, 13.5, -1.9,
           -2.6, -0.3, 5.9, 4.9, -11.4, -1.8, -6.2, 2.2, 9.2, -2.4, 0.7, -3.3, -0.3, 2.1, -2.9,
           -3.7, 3.5, 7.5, 2.2, 0.6, -15.9, 2.1, -7.6, -4.8, 5.5, -5.3, 4.8, -2.2, -0.8, 4.2,
           -15.8, 6.3, 2.1, -0.4, 3.2, -4.8, -0.4, 2.1, -3.4, -9.4, -6.9, 9.4, -3.3, 6.7, -6.2,
           -4.5, 1.5, 6.2, -6.1, 0.2, -4.9, -6.2, -1.8, 5.5, 1.8, 8.1, 1.9, -1.4, -8.4, -2.4,
           -8.0, 5.3, -6.6, 4.8, -7.5, -0.6, -2.2, -4.8, 7.6, 5.5, 7.1, 0.7, 5.4, 7.2, -5.3,
           -2.4, -0.6, 4.0, -7.0, -2.4, 0.7, -4.4, 2.2, 2.5, -7.6, 6.8, -2.4, 6.6, -0.3, -10.7,
           -7.3, -2.4, 3.9, 10.4, -8.4, 5.8, 5.7, -9.5, -16.7, -10.0, 1.4, -4.0, 1.9, 2.1, -4.2,
           3.3, 4.0, 3.3, -2.0, -2.1, -3.8, -11.2, -5.0, -2.1, 4.5, -7.5, 6.8, 7.3, 4.5, -1.3,
           -2.9, 1.2, -0.3, 10.7, 2.3, 0.6, -6.0, -7.4, -4.2, 7.6, -3.7, 3.0, 4.0, 4.5, -9.3,
           -4.7, -1.9, -15.4, 8.0, 2.7, 1.9, 0.7, -7.5, -1.3, 7.2, 2.5, 2.2, -14.9, 5.5, 6.3,
           -2.6, 2.2, 8.2, 2.5, -1.8, -0.6, -6.9, -2.5, 3.4, 10.3, 9.1, 5.9, 0.8, 1.5, 7.7, -9.3,
           -0.8, -3.3, 3.9, -1.6, -2.0, -0.8, 3.5, -6.2, 5.2, -7.0, -0.1, -7.5, 5.2, -1.0, 3.4,
           1.5, 2.0, 12.2, -2.5, -1.4, -8.0, 5.2, -8.2, -8.5, -8.5, 11.9, 4.8, 3.5, 2.2, -1.5,
           -3.2, 10.0, 0.8, 1.7, 4.6, -2.5, -2.9, -5.0, -3.2, 0.7, 2.6, -6.7, 3.2, 5.7, 3.4,
           -1.1, -7.6, -6.9, -10.8]


def flatten(cols):
    xs, ys = [], []
    for x, col in cols:
        xs += [x] * len(col)
        ys += col
    return xs, ys


def px_axes(fig, left, top, right, bottom):
    return fig.add_axes([left / W, 1 - bottom / H, (right - left) / W, (bottom - top) / H])


def fig_text(fig, x, y, s, **kw):
    fig.text(x / W, 1 - y / H, s, ha="center", va="center", **kw)


def box(fig, left, top, right, bottom):
    fig.patches.append(Rectangle((left / W, 1 - bottom / H), (right - left) / W, (bottom - top) / H,
                                 transform=fig.transFigure, fill=False, edgecolor="#d9d9d9", lw=1.2))


def style(ax, xlim, xstep, ylim, ystep, yfmt, font=None, color="black", grid=GRID, size=11.5):
    ax.set_xlim(*xlim)
    ax.set_ylim(*ylim)
    ax.set_xticks(np.arange(xlim[0], xlim[1] + xstep / 2, xstep))
    ax.set_yticks(np.arange(ylim[0], ylim[1] + ystep / 2, ystep))
    ax.yaxis.set_major_formatter(FormatStrFormatter(yfmt))
    ax.grid(True, color=grid, lw=1.1, zorder=0)
    ax.set_axisbelow(True)
    for sp in ax.spines.values():
        sp.set_color(grid)
        sp.set_linewidth(1.2)
    ax.tick_params(length=0, labelsize=size, pad=9, colors=color)
    if font:
        for lab in ax.get_xticklabels() + ax.get_yticklabels():
            lab.set_family(font)


def limits(ax, lim, color="#ff0000", lw=2.0):
    for v in (-lim, lim):
        ax.axhline(v, color=color, lw=lw, ls=(0, (3.0, 2.0)), zorder=2)


def dots(ax, x, y, s=50):
    ax.scatter(x, y, s=s, color=BLUE, linewidths=0, zorder=3)


fig = plt.figure(figsize=(W / 100, H / 100), dpi=100)

for b in [(7, 6, 620, 468), (624, 6, 1236, 468), (7, 495, 620, 957),
          (624, 495, 1236, 957), (15, 983, 628, 1441), (632, 987, 1236, 1441)]:
    box(fig, *b)

TITLE = dict(fontsize=17, fontweight="bold")
LABEL = dict(fontsize=13.5, fontweight="bold")
PCT = "Replicate TC Relative Percent Difference\n(%)"
DIFF = "Replicate TC Difference (µg/cm²)"

# TC 0-10
ax = px_axes(fig, 98, 67, 588, 392)
limits(ax, 1.0)
dots(ax, np.arange(1, len(tc_lo_y) + 1), tc_lo_y)
style(ax, (0, 120), 20, (-1.5, 1.5), 0.5, "%.1f")
fig_text(fig, 313, 33, "TC: 0-10 µg/cm²; N=112", **TITLE)
fig_text(fig, 323, 444, "Sample # with Increasing TC (0-10 µg/cm²)", **LABEL)
fig_text(fig, 22, 230, DIFF, rotation=90, **LABEL)

# TC >10
ax = px_axes(fig, 732, 67, 1199, 392)
limits(ax, 10)
x, y = flatten(tc_hi_cols)
dots(ax, x, y)
dots(ax, tc_hi_out_x, tc_hi_out_y)
style(ax, (0, 1800), 200, (-20, 20), 5, "%d")
fig_text(fig, 930, 33, "TC >10 µg/cm²; N=1664", **TITLE)
fig_text(fig, 935, 444, "Sample # with Increasing TC (>10 µg/cm²)", **LABEL)
fig_text(fig, 649, 228, PCT, rotation=90, linespacing=1.25, **LABEL)

# OC 0-10
ax = px_axes(fig, 98, 556, 588, 881)
limits(ax, 1.0)
dots(ax, oc_lo_x, oc_lo_y)
style(ax, (0, 500), 100, (-1.5, 1.5), 0.5, "%.1f")
fig_text(fig, 313, 522, "OC: 0-10 µg/cm²; N=406", **TITLE)
fig_text(fig, 323, 933, "Sample # with Increasing OC (0-10 µg/cm²)", **LABEL)
fig_text(fig, 22, 718, DIFF, rotation=90, **LABEL)

# OC >10
ax = px_axes(fig, 732, 556, 1199, 881)
limits(ax, 10)
x, y = flatten(oc_hi_cols)
dots(ax, x, y)
dots(ax, oc_hi_out_x, oc_hi_out_y)
style(ax, (0, 1400), 200, (-20, 15), 5, "%d")
fig_text(fig, 930, 522, "OC >10 µg/cm²; N=1370", **TITLE)
fig_text(fig, 937, 933, "Sample # with Increasing OC (>10 µg/cm²)", **LABEL)
fig_text(fig, 649, 716, PCT, rotation=90, linespacing=1.25, **LABEL)

# EC 0-10
ax = px_axes(fig, 107, 1044, 593, 1370)
limits(ax, 2.0)
x, y = flatten(ec_lo_cols)
dots(ax, x, y)
dots(ax, ec_lo_out_x, ec_lo_out_y)
style(ax, (0, 1600), 400, (-2.5, 2.5), 0.5, "%.1f")
fig_text(fig, 321, 1010, "EC: 0-10 µg/cm²; N=1528", **TITLE)
fig_text(fig, 331, 1421, "Sample # with Increasing EC (0-10 µg/cm²)", **LABEL)
fig_text(fig, 31, 1207, DIFF, rotation=90, **LABEL)

# EC >10 (different source style)
SANS = ["Open Sans", "DejaVu Sans"]
DARK = "#333333"
ax = px_axes(fig, 738, 1045, 1210, 1371)
limits(ax, 20, color="#ff4040", lw=2.3)
dots(ax, ec_hi_x, ec_hi_y, s=55)
style(ax, (0, 300), 50, (-25, 25), 5, "%d", font=SANS, color="#404040", grid="#e3e3e3",
      size=12.5)
fig_text(fig, 937, 1012, "EC >10 µg/cm²; N=248", family=SANS, fontsize=17, fontweight="bold",
         color=DARK)
fig_text(fig, 941, 1421, "Sample # with Increasing EC (>10 µg/cm²)", family=SANS, fontsize=13,
         fontweight="bold", color=DARK)
fig_text(fig, 657, 1207, PCT, family=SANS, rotation=90, linespacing=1.3, fontsize=13,
         fontweight="bold", color=DARK)

fig.savefig("out.png", dpi=100, facecolor="white")
